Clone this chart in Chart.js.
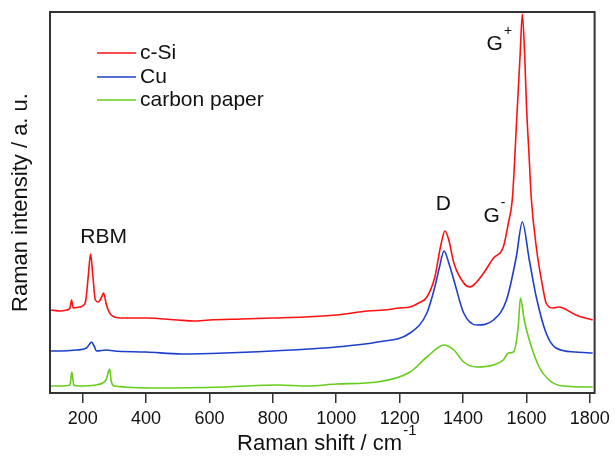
<!DOCTYPE html>
<html>
<head>
<meta charset="utf-8">
<script src="https://cdn.jsdelivr.net/npm/chart.js@4.4.1/dist/chart.umd.min.js"></script>
<style>
  body { margin: 0; background: #fff; }
  #wrap { width: 615px; height: 459px; }
</style>
</head>
<body>
<div id="wrap"><canvas id="spectra" width="615" height="459"></canvas></div>
<script>
// Raman shift (cm-1) and intensity, per sample
const siShift = [100, 130, 150, 160, 165, 170, 190, 200, 210, 218, 225, 232, 240, 250, 260, 266, 275, 290, 320, 400, 500, 550, 600, 700, 800, 900, 1000, 1100, 1150, 1200, 1233, 1260, 1286, 1311, 1330, 1343, 1355, 1371, 1402, 1421, 1440, 1465, 1496, 1527, 1543, 1556, 1570, 1580, 1587, 1595, 1600, 1609, 1615, 1631, 1653, 1662, 1684, 1700, 1715, 1756, 1809];
const siVals  = [83, 82, 83, 85, 93, 85, 86, 87, 93, 118, 139, 118, 93, 91, 96, 100, 88, 78, 75, 75, 73, 72, 73, 74, 75, 76, 78, 82, 83, 85, 86, 90, 96, 116, 148, 162, 153, 130, 110, 106, 110, 120, 135, 146, 170, 196, 278, 338, 379, 333, 288, 233, 196, 146, 103, 90, 85, 86, 85, 78, 73];

const cuShift = [100, 128, 180, 212, 222, 228, 236, 244, 275, 300, 400, 513, 650, 858, 1000, 1130, 1233, 1286, 1311, 1325, 1340, 1355, 1371, 1402, 1443, 1496, 1537, 1568, 1587, 1609, 1631, 1662, 1693, 1756, 1809];
const cuVals  = [42, 42, 43, 45, 49, 51, 47, 42, 43, 42, 41, 39, 40, 43, 46, 51, 60, 80, 106, 125, 142, 130, 113, 80, 68, 73, 93, 136, 171, 133, 96, 60, 45, 41, 40];

const cpShift = [100, 128, 160, 166, 172, 190, 240, 263, 275, 282, 285, 290, 300, 441, 650, 817, 911, 1000, 1130, 1233, 1286, 1340, 1371, 1402, 1443, 1496, 1527, 1543, 1559, 1574, 1581, 1593, 1609, 1640, 1671, 1715, 1809];
const cpVals  = [7, 7, 8, 21, 8, 7, 8, 10, 14, 22, 24, 12, 7, 5, 6, 8, 7, 9, 11, 21, 36, 48, 43, 31, 26, 28, 33, 40, 41, 66, 95, 73, 53, 26, 13, 7, 6];

const seriesNames = ['c-Si', 'Cu', 'carbon paper'];
const seriesColors = ['#ff1010', '#1c3fcc', '#66cc1a'];
const xTicks = [200, 400, 600, 800, 1000, 1200, 1400, 1600, 1800];

// peak labels: [text, superscript, shift, intensity]
const peakLabels = [
  ['RBM', '', 266, 156],
  ['D', '', 1338, 189],
  ['G', '-', 1490, 177],
  ['G', '+', 1500, 349]
];

function pairs(xs, ys) {
  return xs.map((x, i) => ({ x: x, y: ys[i] }));
}

const FONT = 'Liberation Sans, Arial, sans-serif';

const decor = {
  id: 'decor',
  afterDraw(chart) {
    const c = chart.ctx;
    const a = chart.chartArea;
    const xs = chart.scales.x, ys = chart.scales.y;
    c.save();
    // frame
    c.strokeStyle = '#333';
    c.lineWidth = 2;
    c.strokeRect(a.left, a.top, a.right - a.left, a.bottom - a.top);

    // legend
    c.textBaseline = 'middle';
    c.textAlign = 'left';
    c.font = '21px ' + FONT;
    const legY = [53, 77, 100];
    seriesNames.forEach((n, i) => {
      c.strokeStyle = seriesColors[i];
      c.lineWidth = 1.5;
      c.beginPath();
      c.moveTo(97, legY[i]);
      c.lineTo(136, legY[i]);
      c.stroke();
      c.fillStyle = '#111';
      c.fillText(n, 140, legY[i]);
    });

    // peak labels
    peakLabels.forEach(p => {
      const px = xs.getPixelForValue(p[2]);
      const py = ys.getPixelForValue(p[3]);
      c.font = '21px ' + FONT;
      c.textAlign = 'center';
      c.fillStyle = '#111';
      c.fillText(p[0], px, py);
      if (p[1]) {
        const w = c.measureText(p[0]).width;
        c.font = '14px ' + FONT;
        c.textAlign = 'left';
        c.fillText(p[1], px + w / 2 + 1, py - 13);
      }
    });

    // x title with superscript
    c.font = '22px ' + FONT;
    const main = 'Raman shift / cm';
    const mw = c.measureText(main).width;
    c.font = '15px ' + FONT;
    const sw = c.measureText('-1').width;
    const cx = (a.left + a.right) / 2 + 4;
    const x0 = cx - (mw + sw) / 2;
    c.textAlign = 'left';
    c.font = '22px ' + FONT;
    c.fillText(main, x0, 444);
    c.font = '15px ' + FONT;
    c.fillText('-1', x0 + mw + 1, 431);
    c.restore();
  }
};

new Chart(document.getElementById('spectra'), {
  type: 'line',
  data: {
    datasets: [
      { label: seriesNames[0], data: pairs(siShift, siVals), borderColor: seriesColors[0] },
      { label: seriesNames[1], data: pairs(cuShift, cuVals), borderColor: seriesColors[1] },
      { label: seriesNames[2], data: pairs(cpShift, cpVals), borderColor: seriesColors[2] }
    ]
  },
  options: {
    responsive: false,
    animation: false,
    elements: {
      point: { radius: 0 },
      line: { borderWidth: 1.6, cubicInterpolationMode: 'monotone', fill: false }
    },
    layout: { padding: { top: 12, right: 15, left: 0, bottom: 0 } },
    plugins: { legend: { display: false }, tooltip: { enabled: false } },
    scales: {
      x: {
        type: 'linear',
        min: 97,
        max: 1815,
        afterBuildTicks: s => { s.ticks = xTicks.map(v => ({ value: v })); },
        afterFit: s => { s.height = 66; },
        ticks: {
          font: { family: FONT, size: 18 },
          color: '#111',
          padding: 5,
          maxRotation: 0,
          callback: v => String(v)
        },
        grid: { drawOnChartArea: false, drawTicks: true, tickLength: 10, color: '#333', lineWidth: 1.5 },
        border: { display: false }
      },
      y: {
        min: 0,
        max: 381,
        afterFit: s => { s.width = 50; },
        ticks: { display: false },
        grid: { display: false },
        border: { display: false },
        title: {
          display: true,
          text: 'Raman intensity / a. u.',
          font: { family: FONT, size: 22 },
          color: '#111',
          padding: { top: 8, bottom: 0 }
        }
      }
    }
  },
  plugins: [decor]
});
</script>
</body>
</html>
